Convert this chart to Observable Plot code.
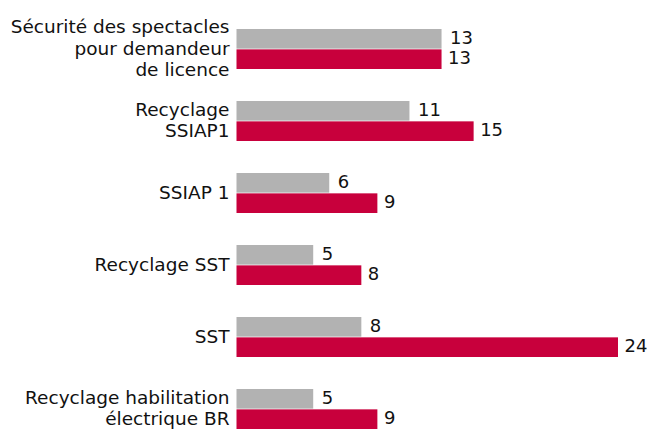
<!DOCTYPE html>
<html>
<head>
<meta charset="utf-8">
<script src="https://cdn.jsdelivr.net/npm/d3@7"></script>
<script src="https://cdn.jsdelivr.net/npm/@observablehq/plot@0.6"></script>
<style>
  html, body { margin: 0; padding: 0; background: #fff; }
  #chart svg { display: block; }
</style>
</head>
<body>
<div id="chart"></div>
<script>
const categories = [
  "Sécurité des spectacles\npour demandeur\nde licence",
  "Recyclage\nSSIAP1",
  "SSIAP 1",
  "Recyclage SST",
  "SST",
  "Recyclage habilitation\nélectrique BR"
];
const seriesGray = [13, 11, 6, 5, 8, 5];
const seriesRed = [13, 15, 9, 8, 24, 9];

const gray = categories.map((c, i) => ({category: c, value: seriesGray[i]}));
const red = categories.map((c, i) => ({category: c, value: seriesRed[i]}));

const half = 20.35;
const fontFamily = "'DejaVu Sans', Verdana, sans-serif";

const chart = Plot.plot({
  width: 647,
  height: 443,
  marginLeft: 233,
  marginRight: 29,
  marginTop: 29,
  marginBottom: 10.5,
  style: {fontFamily, background: "#fff", overflow: "visible"},
  x: {domain: [0, 24], axis: null},
  y: {domain: categories, axis: null, paddingInner: 0.4386, paddingOuter: 0, align: 0},
  marks: [
    Plot.barX(gray, {x: "value", y: "category", fill: "#b2b2b2", insetBottom: half, insetLeft: 3.5}),
    Plot.barX(red, {x: "value", y: "category", fill: "#c8003c", insetTop: half, insetLeft: 3.5}),
    Plot.text(gray, {x: "value", y: "category", text: d => String(d.value), textAnchor: "start", dx: 8, dy: -11.5, fontSize: 18, fill: "#111"}),
    Plot.text(red, {x: "value", y: "category", text: d => String(d.value), textAnchor: "start", dx: 6, dy: 8.5, fontSize: 18, fill: "#111"}),
    Plot.text(categories, {y: d => d, text: d => d, frameAnchor: "left", textAnchor: "end", dx: -4, dy: -2, fontSize: 18.5, lineHeight: 1.18, fill: "#111"})
  ]
});
document.getElementById("chart").appendChild(chart);
</script>
</body>
</html>
